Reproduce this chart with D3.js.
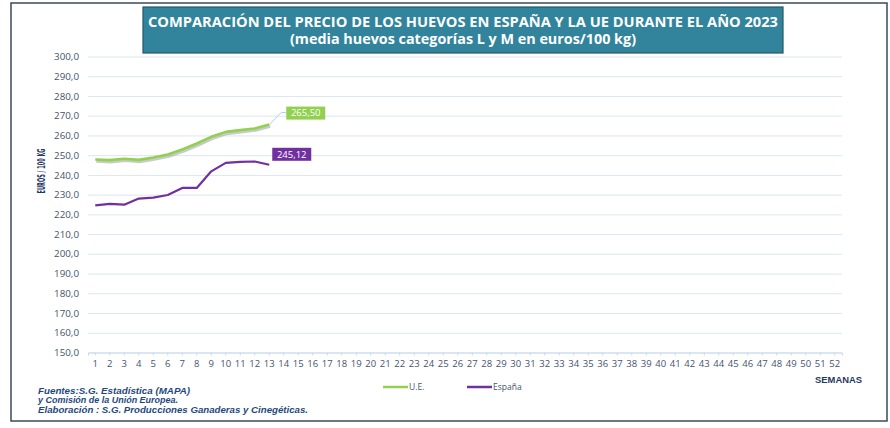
<!DOCTYPE html>
<html>
<head>
<meta charset="utf-8">
<script src="https://cdn.jsdelivr.net/npm/d3@7"></script>
<style>
  body { margin: 0; background: #fff; }
  svg { display: block; }
</style>
</head>
<body>
<div id="chart"></div>
<script>
const weeks = d3.range(1, 53); // semanas 1..52
const yTicks = d3.range(150, 301, 10);
const ueValues = [247.8, 247.5, 248.2, 247.6, 248.8, 250.3, 252.9, 255.9, 259.3, 261.8, 262.7, 263.5, 265.50];
const espValues = [224.6, 225.3, 224.9, 228.0, 228.5, 229.8, 233.4, 233.4, 241.8, 246.1, 246.6, 246.8, 245.12];
const titleLines = ["COMPARACIÓN DEL PRECIO DE LOS HUEVOS EN ESPAÑA Y LA UE DURANTE EL AÑO 2023",
                    "(media huevos categorías L y M en euros/100 kg)"];
const sourceLines = ["Fuentes:S.G. Estadística (MAPA)", "y Comisión de la Unión Europea.",
                     "Elaboración : S.G. Producciones Ganaderas y Cinegéticas."];

const GREEN = "#92D050", PURPLE = "#7030A0", AXIS_TXT = "#44546A", NAVY = "#1F3864";

const W = 890, H = 428;
const margin = { top: 56.5, right: 48, bottom: 75.5, left: 88 };
const width = W - margin.left - margin.right,
      height = H - margin.top - margin.bottom;

const svg = d3.select("#chart").append("svg")
    .attr("width", W).attr("height", H)
    .style("font-family", "Calibri, 'Liberation Sans', Arial, sans-serif");

// outer frame
svg.append("rect").attr("x", 11).attr("y", 3).attr("width", 876).attr("height", 418)
    .attr("fill", "#fff").attr("stroke", "#3a4a5a").attr("stroke-width", 1.5);

// title box
const tb = svg.append("g");
tb.append("rect").attr("x", 143).attr("y", 7).attr("width", 640).attr("height", 46)
    .attr("fill", "#31849B").attr("stroke", "#215968").attr("stroke-width", 1.2);
tb.selectAll("text").data(titleLines).enter().append("text")
    .attr("x", 463).attr("y", (d, i) => 27 + i * 17)
    .attr("text-anchor", "middle").attr("fill", "#fff")
    .attr("font-family", "'Open Sans', Calibri, sans-serif")
    .attr("font-weight", "bold").attr("font-size", 13.5)
    .attr("textLength", (d, i) => i === 0 ? 630 : 346)
    .attr("lengthAdjust", "spacingAndGlyphs")
    .text(d => d);

const g = svg.append("g").attr("transform", "translate(" + margin.left + "," + margin.top + ")");

const x = d3.scaleBand().domain(weeks).range([0, width]);
const y = d3.scaleLinear().domain([150, 300]).range([height, 0]);
const cx = w => x(w) + x.bandwidth() / 2;

// gridlines
g.append("g").attr("class", "grid-y")
    .call(d3.axisLeft(y).tickValues(yTicks).tickSize(-width).tickFormat(""))
    .call(s => s.select(".domain").remove())
    .call(s => s.selectAll("line").attr("stroke", "#DCE6F2").attr("stroke-width", 1));

// y axis labels
g.append("g")
    .call(d3.axisLeft(y).tickValues(yTicks).tickSize(0).tickPadding(9)
        .tickFormat(d => d3.format(".1f")(d).replace(".", ",")))
    .call(s => s.select(".domain").remove())
    .call(s => s.selectAll("text").attr("fill", AXIS_TXT).attr("font-size", 9.8)
        .attr("font-family", "'Open Sans', Calibri, sans-serif"));

// x axis
g.append("g").attr("transform", "translate(0," + height + ")")
    .call(d3.axisBottom(x).tickSize(3).tickPadding(5))
    .call(s => s.select(".domain").attr("stroke", "#C9D9EC"))
    .call(s => s.selectAll("line").attr("stroke", "#C9D9EC"))
    .call(s => s.selectAll("text").attr("fill", AXIS_TXT).attr("font-size", 9.5)
        .attr("font-family", "'Open Sans', Calibri, sans-serif"));

// y title
svg.append("text").attr("transform", "translate(45,171) rotate(-90)")
    .attr("text-anchor", "middle").attr("fill", NAVY).attr("font-size", 10.5)
    .attr("font-weight", "bold").attr("font-family", "'Liberation Sans Narrow', 'DejaVu Sans Condensed', sans-serif")
    .attr("textLength", 45).attr("lengthAdjust", "spacingAndGlyphs")
    .text("EUROS / 100 KG");

const line = d3.line().x((d, i) => cx(weeks[i])).y(d => y(d));

// UE line with soft shadow
g.append("path").datum(ueValues).attr("d", line)
    .attr("fill", "none").attr("stroke", "#9aa39a").attr("stroke-opacity", 0.55)
    .attr("stroke-width", 3).attr("stroke-linejoin", "round").attr("transform", "translate(1,1.8)");
g.append("path").datum(ueValues).attr("d", line)
    .attr("fill", "none").attr("stroke", GREEN).attr("stroke-width", 2.6).attr("stroke-linejoin", "round");

g.append("path").datum(espValues).attr("d", line)
    .attr("fill", "none").attr("stroke", PURPLE).attr("stroke-width", 2.2).attr("stroke-linejoin", "round");

// data labels for last week
const fmt = v => d3.format(".2f")(v).replace(".", ",");
const lastW = weeks[ueValues.length - 1];
const ueLast = ueValues[ueValues.length - 1], espLast = espValues[espValues.length - 1];

g.append("polyline")
    .attr("points", [[cx(lastW), y(ueLast)], [cx(lastW) + 12, y(ueLast) - 12], [cx(lastW) + 17, y(ueLast) - 12]].join(" "))
    .attr("fill", "none").attr("stroke", "#9DC3E6").attr("stroke-width", 0.8);

function valueLabel(xp, yp, txt, fill) {
  const lg = g.append("g").attr("transform", "translate(" + xp + "," + yp + ")");
  lg.append("rect").attr("x", 0).attr("y", -6.5).attr("width", 39).attr("height", 13).attr("fill", fill);
  lg.append("text").attr("x", 19.5).attr("y", 3.3).attr("text-anchor", "middle")
      .attr("fill", "#fff").attr("font-size", 9.5).attr("font-family", "'Open Sans', Calibri, sans-serif")
      .text(txt);
}
valueLabel(cx(lastW) + 17, y(ueLast) - 11.5, fmt(ueLast), GREEN);
valueLabel(cx(lastW) + 3, y(espLast) - 10.5, fmt(espLast), PURPLE);

// legend
const legend = [{ name: "U.E.", color: GREEN, x: 383 }, { name: "España", color: PURPLE, x: 467 }];
const lgd = svg.selectAll(".lg").data(legend).enter().append("g")
    .attr("transform", d => "translate(" + d.x + ",387)");
lgd.append("line").attr("x1", 0).attr("x2", 25).attr("stroke", d => d.color).attr("stroke-width", 2.5);
lgd.append("text").attr("x", 26).attr("y", 3).attr("fill", AXIS_TXT).attr("font-size", 8.5)
    .attr("font-family", "'Open Sans', Calibri, sans-serif").text(d => d.name);

// x title
svg.append("text").attr("x", 862).attr("y", 383).attr("text-anchor", "end")
    .attr("fill", NAVY).attr("font-size", 9.4).attr("font-weight", "bold")
    .attr("font-family", "Arial, 'Liberation Sans', sans-serif").text("SEMANAS");

// sources
svg.selectAll(".src").data(sourceLines).enter().append("text")
    .attr("x", 38).attr("y", (d, i) => 394 + i * 9.3)
    .attr("fill", "#1F497D").attr("font-size", 8.8).attr("font-style", "italic").attr("font-weight", "bold")
    .attr("textLength", (d, i) => [152, 140, 270][i]).attr("lengthAdjust", "spacingAndGlyphs")
    .attr("font-family", "Arial, 'Liberation Sans', sans-serif").text(d => d);
</script>
</body>
</html>
